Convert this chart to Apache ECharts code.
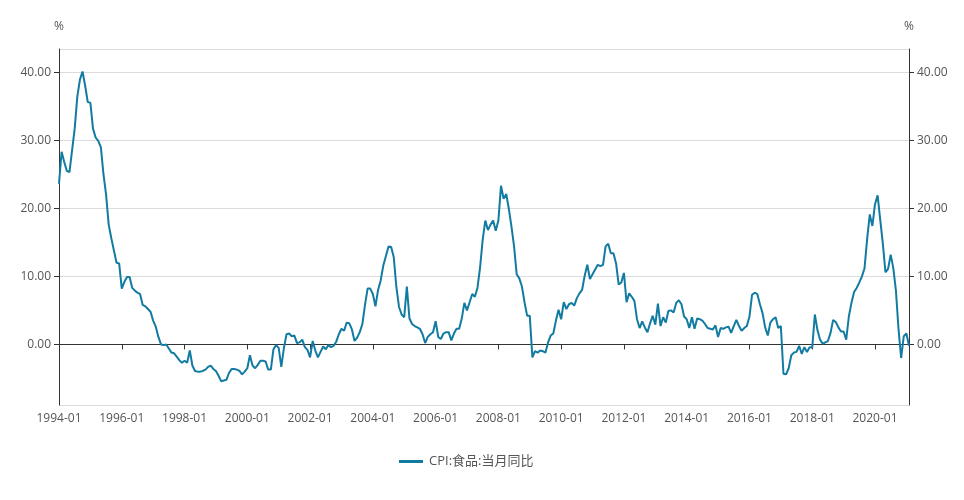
<!DOCTYPE html>
<html><head><meta charset="utf-8">
<script src="https://cdn.jsdelivr.net/npm/echarts@6/dist/echarts.min.js"></script>
<style>html,body{margin:0;padding:0;background:#fff}#c{width:964px;height:500px}</style>
</head><body><div id="c"></div>
<script>
const seriesName = 'CPI:食品:当月同比';
const axisUnit = '%';
const startYear = 1994, endYear = 2021, endMonth = 2;
const v1994 = [23.6, 28.3, 26.8, 25.5, 25.3, 28.5, 31.7, 36.4, 38.9, 40.1, 38.0, 35.6];
const v1995 = [35.5, 31.7, 30.4, 29.9, 29.0, 25.0, 22.0, 17.6, 15.6, 13.8, 12.0, 11.9];
const v1996 = [8.2, 9.2, 9.9, 9.9, 8.3, 7.9, 7.6, 7.4, 5.8, 5.6, 5.2, 4.8];
const v1997 = [3.5, 2.6, 1.1, 0.0, -0.1, 0.0, -0.6, -1.2, -1.3, -1.8, -2.3, -2.7];
const v1998 = [-2.4, -2.7, -0.9, -3.1, -3.9, -4.0, -4.0, -3.9, -3.7, -3.3, -3.1, -3.6];
const v1999 = [-3.9, -4.6, -5.4, -5.3, -5.2, -4.2, -3.6, -3.6, -3.7, -3.9, -4.4, -4.0];
const v2000 = [-3.5, -1.6, -3.1, -3.5, -3.0, -2.4, -2.4, -2.5, -3.7, -3.7, -0.7, -0.1];
const v2001 = [-0.5, -3.3, -0.5, 1.5, 1.6, 1.2, 1.3, 0.2, 0.3, 0.7, -0.4, -0.8];
const v2002 = [-1.9, 0.5, -0.9, -1.9, -1.1, -0.3, -0.7, -0.1, -0.4, -0.2, 0.4, 1.5];
const v2003 = [2.3, 2.0, 3.2, 3.1, 2.2, 0.5, 1.0, 1.8, 3.0, 5.8, 8.2, 8.2];
const v2004 = [7.4, 5.6, 8.0, 9.4, 11.6, 13.0, 14.4, 14.3, 12.8, 8.4, 5.5, 4.4];
const v2005 = [4.0, 8.5, 3.8, 3.0, 2.7, 2.5, 2.3, 1.5, 0.2, 1.1, 1.5, 1.8];
const v2006 = [3.4, 1.1, 0.8, 1.6, 1.8, 1.8, 0.6, 1.6, 2.3, 2.3, 3.8, 6.1];
const v2007 = [5.0, 6.2, 7.4, 7.0, 8.3, 11.3, 15.4, 18.2, 16.8, 17.6, 18.2, 16.7];
const v2008 = [18.2, 23.3, 21.4, 22.1, 19.9, 17.3, 14.4, 10.3, 9.7, 8.5, 6.2, 4.2];
const v2009 = [4.2, -1.9, -1.0, -1.2, -0.9, -1.0, -1.2, 0.3, 1.3, 1.6, 3.5, 5.1];
const v2010 = [3.7, 6.2, 5.2, 5.9, 6.1, 5.7, 6.8, 7.5, 8.0, 10.1, 11.7, 9.6];
const v2011 = [10.3, 11.0, 11.7, 11.5, 11.7, 14.4, 14.8, 13.4, 13.4, 11.9, 8.8, 9.1];
const v2012 = [10.5, 6.2, 7.5, 7.0, 6.4, 3.7, 2.4, 3.4, 2.5, 1.8, 3.1, 4.2];
const v2013 = [2.9, 6.0, 2.7, 4.0, 3.2, 4.9, 5.0, 4.7, 6.1, 6.5, 5.9, 4.1];
const v2014 = [3.7, 2.4, 4.0, 2.3, 3.8, 3.7, 3.5, 3.0, 2.4, 2.3, 2.2, 2.8];
const v2015 = [1.1, 2.4, 2.3, 2.5, 2.6, 1.7, 2.7, 3.6, 2.7, 2.0, 2.4, 2.7];
const v2016 = [4.1, 7.3, 7.6, 7.4, 5.9, 4.6, 2.5, 1.3, 3.2, 3.7, 4.0, 2.4];
const v2017 = [2.7, -4.3, -4.4, -3.5, -1.6, -1.2, -1.1, -0.2, -1.4, -0.4, -1.1, -0.4];
const v2018 = [-0.5, 4.4, 2.1, 0.7, 0.1, 0.3, 0.5, 1.7, 3.6, 3.3, 2.5, 1.9];
const v2019 = [1.9, 0.7, 4.1, 6.1, 7.7, 8.3, 9.1, 10.0, 11.2, 15.5, 19.1, 17.4];
const v2020 = [20.6, 21.9, 18.3, 14.8, 10.6, 11.1, 13.2, 11.2, 7.9, 2.2, -2.0, 1.2];
const v2021 = [1.6, -0.2];

const categories = [];
for (let y = startYear; y <= endYear; y++) {
  for (let m = 1; m <= 12; m++) {
    if (y === endYear && m > endMonth) break;
    categories.push(y + '-' + String(m).padStart(2, '0'));
  }
}
const values = [].concat(v1994, v1995, v1996, v1997, v1998, v1999, v2000, v2001, v2002,
  v2003, v2004, v2005, v2006, v2007, v2008, v2009, v2010, v2011, v2012, v2013, v2014,
  v2015, v2016, v2017, v2018, v2019, v2020, v2021);

const FONT = "'Open Sans','Noto Sans CJK SC',sans-serif";
const LINE = '#127ba2';
const yMin = -8.9, yMax = 43.4;
function yAxisCfg(pos) {
  return {
    type: 'value', position: pos, min: yMin, max: yMax,
    name: axisUnit, nameLocation: 'end', nameGap: 16,
    nameTextStyle: { color: '#555', fontSize: 12, fontFamily: FONT, align: 'center' },
    axisLine: { show: true, lineStyle: { color: '#333', width: 1 } },
    axisTick: { show: true, length: 5, lineStyle: { color: '#333' } },
    axisLabel: { color: '#555', fontSize: 12, fontFamily: FONT, margin: 8,
      showMinLabel: false, showMaxLabel: false,
      formatter: v => v.toFixed(2) },
    splitLine: { show: pos === 'left', lineStyle: { color: '#dcdcdc', width: 1 } }
  };
}
const chart = echarts.init(document.getElementById('c'), null, { renderer: 'canvas' });
chart.setOption({
  animation: false,
  backgroundColor: '#fff',
  textStyle: { fontFamily: FONT },
  grid: { left: 59, right: 55, top: 49, bottom: 95, containLabel: false },
  legend: {
    top: 450, left: 394,
    itemWidth: 24, itemHeight: 3, itemGap: 10,
    textStyle: { color: '#555', fontSize: 13, fontFamily: FONT, padding: [0, 0, 0, 1] },
    data: [{ name: seriesName, icon: 'rect', itemStyle: { color: LINE } }]
  },
  xAxis: [
    {
      type: 'category', data: categories, boundaryGap: false, position: 'bottom',
      axisLine: { show: false, onZero: false },
      axisTick: { show: false },
      axisLabel: { color: '#555', fontSize: 12, fontFamily: FONT, interval: 23, margin: 8 },
      splitLine: { show: false }
    },
    {
      type: 'category', data: categories, boundaryGap: false, position: 'bottom',
      axisLine: { show: true, onZero: true, lineStyle: { color: '#333', width: 1 } },
      axisTick: { show: true, interval: 23, length: 5, lineStyle: { color: '#333' } },
      axisLabel: { show: false },
      splitLine: { show: false }
    }
  ],
  yAxis: [yAxisCfg('left'), yAxisCfg('right')],
  series: [{
    name: seriesName, type: 'line', data: values,
    xAxisIndex: 0, yAxisIndex: 0,
    symbol: 'none', smooth: false,
    lineStyle: { color: LINE, width: 2 },
    itemStyle: { color: LINE }
  }]
});
</script>
</body></html>
